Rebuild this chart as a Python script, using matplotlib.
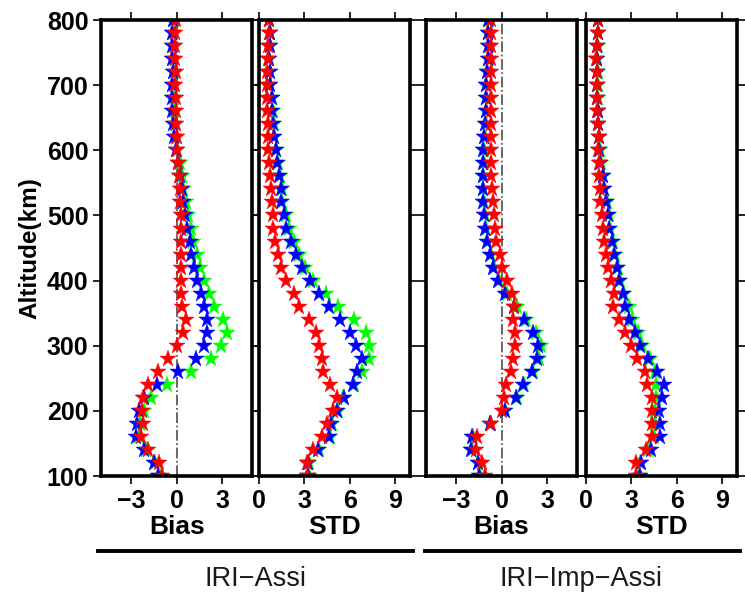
import matplotlib
matplotlib.use("Agg")
import matplotlib.pyplot as plt
from matplotlib.lines import Line2D

plt.rcParams['font.family'] = ['Liberation Sans', 'DejaVu Sans']

# altitude levels (km)
altitude = [100, 120, 140, 160, 180, 200, 220, 240, 260, 280, 300, 320,
            340, 360, 380, 400, 420, 440, 460, 480, 500, 520, 540, 560,
            580, 600, 620, 640, 660, 680, 700, 720, 740, 760, 780, 800]

# IRI-Assi, bias
assi_bias_green = [-1.1, -1.4, -2.0, -2.5, -2.4, -2.15, -1.71, -0.62, 0.92, 2.24, 2.95, 3.3,
                   3.08, 2.46, 2.13, 1.8, 1.54, 1.32, 1.1, 0.92, 0.75, 0.6, 0.45, 0.33,
                   0.2, 0.05, -0.05, -0.1, -0.15, -0.2, -0.2, -0.2, -0.25, -0.25, -0.25, -0.2]
assi_bias_blue = [-1.2, -1.5, -2.15, -2.7, -2.6, -2.48, -2.15, -1.27, 0.11, 1.25, 1.8, 2.02,
                  2.02, 1.8, 1.58, 1.32, 1.14, 0.97, 0.88, 0.7, 0.55, 0.44, 0.33, 0.22,
                  0.12, -0.05, -0.2, -0.25, -0.3, -0.3, -0.3, -0.25, -0.3, -0.3, -0.3, -0.25]
assi_bias_red = [-0.95, -1.16, -1.87, -2.37, -2.2, -2.26, -2.22, -1.87, -1.21, -0.55, 0.0, 0.44,
                 0.59, 0.33, 0.26, 0.26, 0.31, 0.31, 0.31, 0.31, 0.26, 0.24, 0.22, 0.15,
                 0.09, 0.04, 0.0, -0.02, -0.07, -0.07, -0.11, -0.07, -0.13, -0.11, -0.11, -0.07]

# IRI-Assi, std
assi_std_green = [3.3, 3.3, 3.95, 4.7, 4.8, 5.2, 5.55, 6.3, 6.81, 7.26, 7.3, 7.04,
                  6.3, 5.2, 4.42, 3.54, 3.05, 2.65, 2.32, 1.95, 1.77, 1.55, 1.5, 1.38,
                  1.25, 1.13, 1.02, 0.97, 0.9, 0.86, 0.75, 0.72, 0.68, 0.72, 0.72, 0.68]
assi_std_blue = [3.27, 3.27, 3.9, 4.65, 4.75, 5.15, 5.64, 6.19, 6.46, 6.81, 6.42, 6.02,
                 5.35, 4.6, 3.98, 3.36, 2.81, 2.43, 2.1, 1.81, 1.66, 1.48, 1.44, 1.33,
                 1.22, 1.11, 1.0, 0.95, 0.88, 0.84, 0.73, 0.71, 0.66, 0.71, 0.71, 0.66]
assi_std_red = [3.14, 3.14, 3.6, 4.16, 4.5, 4.87, 5.13, 4.71, 4.25, 4.16, 3.94, 3.76,
                3.32, 2.65, 2.28, 1.77, 1.44, 1.28, 1.06, 0.95, 0.93, 0.84, 0.77, 0.73,
                0.66, 0.62, 0.6, 0.6, 0.51, 0.55, 0.55, 0.55, 0.6, 0.62, 0.66, 0.66]

# IRI-Imp-Assi, bias
imp_bias_green = [-1.45, -1.55, -1.95, -1.9, -0.75, 0.25, 1.05, 1.5, 2.1, 2.45, 2.6, 2.25,
                  1.6, 1.0, 0.35, -0.2, -0.5, -0.72, -0.95, -1.06, -1.13, -1.17, -1.22, -1.22,
                  -1.17, -1.17, -1.11, -1.06, -1.02, -1.02, -1.0, -0.95, -0.85, -0.85, -0.88, -0.85]
imp_bias_blue = [-1.5, -1.59, -2.03, -1.94, -0.8, 0.22, 0.93, 1.43, 2.03, 2.32, 2.43, 2.1,
                 1.5, 0.84, 0.22, -0.26, -0.55, -0.77, -0.99, -1.1, -1.17, -1.21, -1.26, -1.26,
                 -1.21, -1.21, -1.15, -1.1, -1.06, -1.06, -1.04, -0.99, -0.88, -0.88, -0.92, -0.88]
imp_bias_red = [-1.1, -1.32, -1.72, -1.66, -0.71, 0.0, 0.18, 0.26, 0.62, 0.77, 0.88, 0.88,
                0.77, 0.84, 0.66, 0.33, 0.04, -0.11, -0.38, -0.44, -0.49, -0.6, -0.66, -0.68,
                -0.71, -0.71, -0.71, -0.71, -0.71, -0.71, -0.71, -0.71, -0.71, -0.71, -0.71, -0.71]

# IRI-Imp-Assi, std
imp_std_green = [3.5, 3.55, 4.1, 4.5, 4.53, 4.53, 4.65, 4.6, 4.53, 4.25, 3.72, 3.43,
                 3.05, 2.83, 2.54, 2.26, 2.1, 1.93, 1.78, 1.6, 1.52, 1.37, 1.2, 1.12,
                 0.97, 0.9, 0.85, 0.8, 0.78, 0.76, 0.76, 0.76, 0.74, 0.76, 0.8, 0.8]
imp_std_blue = [3.6, 3.65, 4.31, 4.87, 4.87, 4.82, 5.04, 5.13, 4.69, 4.09, 3.58, 3.21,
                2.83, 2.61, 2.43, 2.17, 2.04, 1.88, 1.73, 1.55, 1.48, 1.33, 1.17, 1.1,
                0.95, 0.88, 0.84, 0.79, 0.77, 0.75, 0.75, 0.75, 0.73, 0.75, 0.79, 0.79]
imp_std_red = [3.3, 3.32, 3.98, 4.38, 4.38, 4.38, 4.38, 4.03, 3.87, 3.38, 2.99, 2.61,
               2.17, 1.81, 1.88, 1.62, 1.48, 1.33, 1.22, 1.11, 1.06, 0.93, 0.95, 0.88,
               0.84, 0.79, 0.84, 0.79, 0.73, 0.73, 0.73, 0.73, 0.68, 0.73, 0.79, 0.79]

panels = [
    ("Bias", [assi_bias_green, assi_bias_blue, assi_bias_red]),
    ("STD", [assi_std_green, assi_std_blue, assi_std_red]),
    ("Bias", [imp_bias_green, imp_bias_blue, imp_bias_red]),
    ("STD", [imp_std_green, imp_std_blue, imp_std_red]),
]
colors = ['#00ff00', '#0000ff', '#ff0000']
lefts = [0.1356, 0.3477, 0.5718, 0.7866]

fig = plt.figure(figsize=(7.45, 5.96), dpi=100)

for i, (name, series) in enumerate(panels):
    ax = fig.add_axes([lefts[i], 0.2013, 0.203, 0.765])
    for values, c in zip(series, colors):
        ax.plot(values, altitude, linestyle='none', marker='*', markersize=12.5,
                color=c, markeredgewidth=0.3, markeredgecolor=c)
    if name == "Bias":
        ax.axvline(0, color='0.3', linestyle='-.', linewidth=1.2, zorder=0)
        ax.set_xlim(-5, 5)
        ax.set_xticks([-3, 0, 3])
    else:
        ax.set_xlim(0, 10)
        ax.set_xticks([0, 3, 6, 9])
    ax.set_ylim(100, 800)
    ax.set_yticks(range(100, 801, 100))
    ax.tick_params(direction='out', top=True, right=True, length=6, width=1.2,
                   labelsize=18, labelleft=(i == 0), pad=3)
    for lab in ax.get_xticklabels() + ax.get_yticklabels():
        lab.set_fontweight('bold')
    for sp in ax.spines.values():
        sp.set_linewidth(2.6)
    ax.set_xlabel(name, fontsize=19, fontweight='bold', labelpad=2)
    if i == 0:
        ax.set_ylabel("Altitude(km)", fontsize=17.5, fontweight='bold', labelpad=4)

# group lines and names under the panels
fig.add_artist(Line2D([0.1315, 0.5544], [0.0755, 0.0755], color='k', linewidth=2.8))
fig.add_artist(Line2D([0.5705, 0.9933], [0.0755, 0.0755], color='k', linewidth=2.8))
fig.text(0.3436, 0.029, "IRI\u2212Assi", fontsize=19.5, ha='center', va='center', color='0.1')
fig.text(0.7800, 0.029, "IRI\u2212Imp\u2212Assi", fontsize=19.5, ha='center', va='center', color='0.1')

fig.savefig("out.png", dpi=100)
